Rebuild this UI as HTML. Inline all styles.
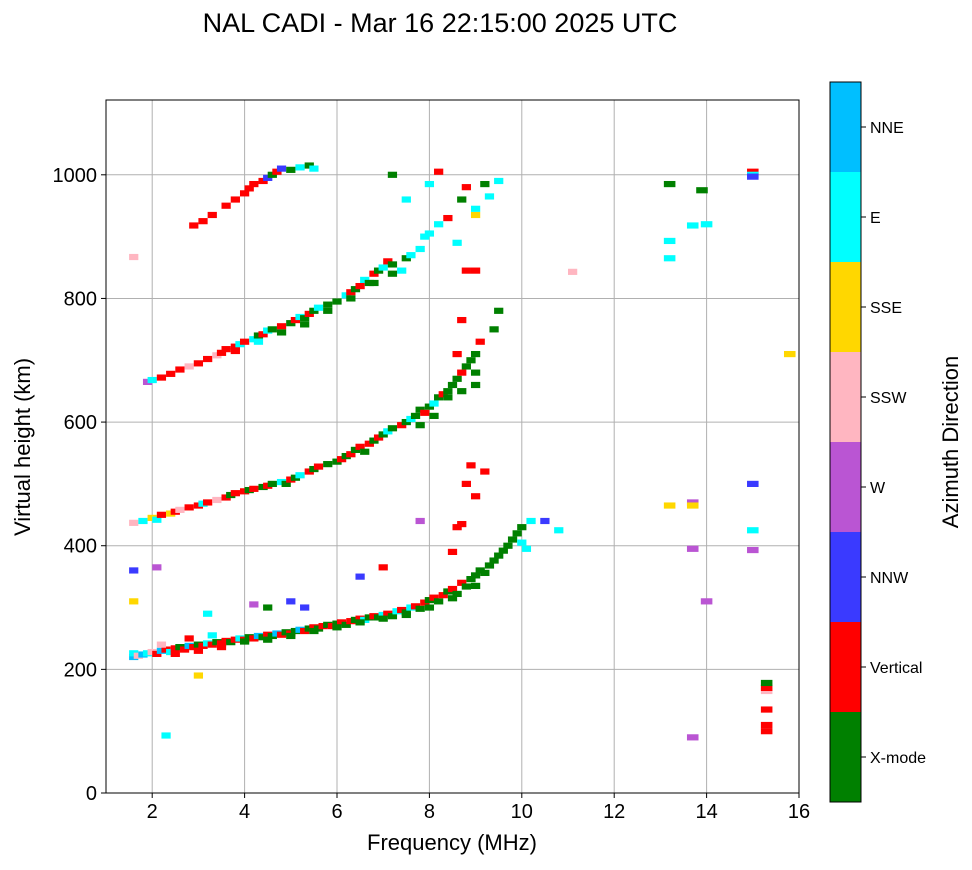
<!DOCTYPE html>
<html><head><meta charset="utf-8"><style>
body{margin:0;background:#fff;font-family:"Liberation Sans","DejaVu Sans",sans-serif}
</style></head><body>
<svg id="chart" width="972" height="865" xmlns="http://www.w3.org/2000/svg" font-family="Liberation Sans, DejaVu Sans, sans-serif">
<text x="440" y="32" font-size="27" text-anchor="middle">NAL CADI - Mar 16 22:15:00 2025 UTC</text>
<g id="grid"></g>
<g id="marks"></g>
<rect x="106" y="100" width="693" height="693" fill="none" stroke="#000" stroke-width="1"/>
<g id="axes"></g>
<text x="452" y="850" font-size="22" text-anchor="middle">Frequency (MHz)</text>
<text transform="translate(30,447) rotate(-90)" font-size="22" text-anchor="middle">Virtual height (km)</text>
<g id="colorbar"></g>
<text transform="translate(958,442) rotate(-90)" font-size="22" text-anchor="middle">Azimuth Direction</text>
</svg>
<script>
const xTicks=[2,4,6,8,10,12,14,16];
const yTicks=[0,200,400,600,800,1000];
const colorNames=["X-mode","Vertical","NNW","W","SSW","SSE","E","NNE"];
const colorValues=["#008000","#ff0000","#3a3aff","#ba55d3","#ffb6c1","#ffd700","#00ffff","#00bfff"];
const trace1="1.6,220,7;1.6,226,6;1.7,222,4;1.8,224,7;1.9,226,6;2.0,228,4;2.1,225,1;2.2,230,7;2.3,232,1;2.4,228,6;2.5,234,1;2.6,236,0;2.7,232,1;2.8,238,7;2.9,236,1;3.0,240,0;3.1,238,1;3.2,242,6;3.3,240,1;3.4,244,0;3.5,242,1;3.6,246,1;3.7,244,0;3.8,248,1;3.9,250,6;4.0,248,1;4.1,252,0;4.2,250,1;4.3,254,7;4.4,252,0;4.5,256,1;4.6,254,0;4.7,258,7;4.8,256,1;4.9,260,0;5.0,258,1;5.1,262,0;5.2,264,7;5.3,262,1;5.4,266,0;5.5,268,1;5.6,266,0;5.7,270,1;5.8,272,0;5.9,270,1;6.0,274,0;6.1,276,1;6.2,272,0;6.3,278,1;6.4,280,0;6.5,282,1;6.6,280,6;6.7,284,0;6.8,286,1;6.9,284,0;7.0,288,6;7.1,290,1;7.2,286,0;7.3,294,6;7.4,296,1;7.5,292,0;7.6,300,6;7.7,302,1;7.8,298,0;7.9,308,1;8.0,312,0;8.1,316,1;8.2,310,0;8.3,320,1;8.4,326,0;8.5,330,1;8.6,322,0;8.7,340,1;8.8,334,0;8.9,346,0;9.0,352,0;9.1,360,0;9.2,356,0;9.3,368,0;9.4,376,0;9.5,384,0;9.6,392,0;9.7,400,0;9.8,410,0;9.9,420,0;10.0,430,0;10.0,405,6;10.1,395,6;10.2,440,6;10.5,440,2;10.8,425,6;4.0,245,0;4.5,248,0;5.0,254,0;5.5,262,0;6.0,268,0;6.5,276,0;7.0,282,0;7.5,288,0;8.0,300,0;8.5,315,0;9.0,335,0;2.5,225,1;3.0,230,1;3.5,236,1;2.2,240,4;2.8,250,1;3.3,255,6";
const trace2="1.6,437,4;1.8,440,6;2.0,445,5;2.1,442,6;2.2,450,1;2.4,452,5;2.5,455,1;2.6,458,4;2.8,462,1;3.0,465,1;3.1,468,6;3.2,470,1;3.4,474,4;3.6,478,1;3.7,482,0;3.8,485,1;4.0,488,1;4.1,490,0;4.2,492,1;4.4,495,0;4.5,497,1;4.6,500,0;4.8,503,6;4.9,500,0;5.0,507,1;5.1,510,0;5.2,514,6;5.4,520,1;5.5,524,0;5.6,528,1;5.8,532,0;6.0,536,0;6.1,540,1;6.2,545,0;6.3,548,1;6.4,555,0;6.5,560,1;6.6,552,0;6.7,565,1;6.8,570,0;6.9,575,1;7.0,580,0;7.1,585,6;7.2,590,0;7.4,595,1;7.5,600,0;7.6,605,6;7.7,610,0;7.8,620,0;7.9,615,1;8.0,625,0;8.1,630,6;8.2,640,0;8.3,645,1;8.4,650,0;8.5,660,0;8.6,670,0;8.7,680,1;8.8,690,0;8.9,700,0;9.0,710,0;9.0,680,0;9.1,730,1;9.4,750,0;9.5,780,0;9.0,660,0;8.7,650,0;8.4,640,0;8.1,610,0;7.8,595,0";
const trace3="1.9,665,3;2.0,668,6;2.2,672,1;2.4,678,1;2.6,685,1;2.8,690,4;3.0,695,1;3.2,702,1;3.4,708,4;3.5,712,1;3.6,718,1;3.8,722,1;3.9,726,6;4.0,730,1;4.2,734,6;4.3,740,0;4.4,742,1;4.5,748,6;4.6,750,0;4.8,755,1;5.0,760,0;5.1,765,1;5.2,770,6;5.3,768,0;5.4,775,1;5.5,780,0;5.6,785,6;5.8,790,0;6.0,795,0;6.2,805,6;6.3,810,1;6.4,815,0;6.5,820,1;6.6,830,6;6.7,825,0;6.8,840,1;6.9,845,0;7.0,850,6;7.1,860,1;7.2,855,0;7.4,845,6;7.5,865,0;7.6,870,6;7.8,880,6;7.9,900,6;8.0,905,6;8.2,920,6;8.4,930,1;8.6,890,6;8.8,845,1;9.0,935,5;9.0,945,6;9.5,990,6;3.8,715,1;4.3,730,6;4.8,745,0;5.3,758,0;5.8,780,0;6.3,800,0;6.8,825,0;7.2,840,0";
const trace4="2.9,918,1;3.1,925,1;3.3,935,1;3.6,950,1;3.8,960,1;4.0,970,1;4.1,978,1;4.2,985,1;4.4,990,1;4.5,995,2;4.6,1000,0;4.7,1005,1;4.8,1010,2;5.0,1008,0;5.2,1012,6;5.4,1015,0;5.5,1010,6;7.2,1000,0;7.5,960,6;8.0,985,6;8.2,1005,1;8.7,960,0;8.8,980,1;9.2,985,0;9.3,965,6";
const scattered="8.6,430,1;8.7,435,1;8.8,500,1;8.9,530,1;9.0,480,1;9.2,520,1;8.5,390,1;7.8,440,3;6.5,350,2;7.0,365,1;1.6,360,2;1.6,310,5;2.1,365,3;2.3,93,6;3.0,190,5;4.2,305,3;4.5,300,0;5.0,310,2;5.3,300,2;3.2,290,6;15.3,100,1;15.3,110,1;15.3,135,1;15.3,165,4;15.3,170,1;15.3,178,0;13.7,90,3;13.7,395,3;13.7,470,3;13.7,465,5;13.2,465,5;13.2,865,6;13.2,893,6;13.7,918,6;14.0,920,6;13.2,985,0;13.9,975,0;15.0,1005,1;15.0,1000,6;15.0,997,2;15.0,500,2;15.0,425,6;15.0,393,3;14.0,310,3;15.8,710,5;11.1,843,4;1.6,867,4;9.0,845,1;8.7,765,1;8.6,710,1";

const NS="http://www.w3.org/2000/svg";
const X0=106,X1=799,Y0=793,Y1=100,XMIN=1,XMAX=16,YMIN=0,YMAX=1121;
function xs(v){return X0+(v-XMIN)/(XMAX-XMIN)*(X1-X0);}
function ys(v){return Y0-(v-YMIN)/(YMAX-YMIN)*(Y0-Y1);}
function mk(tag,attrs,parent){const e=document.createElementNS(NS,tag);for(const k in attrs)e.setAttribute(k,attrs[k]);parent.appendChild(e);return e;}
const grid=document.getElementById('grid'),axes=document.getElementById('axes'),marks=document.getElementById('marks'),cb=document.getElementById('colorbar');
xTicks.forEach(t=>{
 const gl=mk('line',{x1:xs(t),x2:xs(t),y1:Y1,y2:Y0,stroke:'#b0b0b0','stroke-width':1},grid);
 
 
 mk('line',{x1:xs(t),x2:xs(t),y1:Y0,y2:Y0+5,stroke:'#000'},axes);
 const tx=mk('text',{x:xs(t),y:Y0+25,'font-size':20,'text-anchor':'middle'},axes);tx.textContent=t;
 
 
});
yTicks.forEach(t=>{
 const gl=mk('line',{x1:X0,x2:X1,y1:ys(t),y2:ys(t),stroke:'#b0b0b0','stroke-width':1},grid);
 
 
 mk('line',{x1:X0-5,x2:X0,y1:ys(t),y2:ys(t),stroke:'#000'},axes);
 const tx=mk('text',{x:X0-9,y:ys(t)+7,'font-size':20,'text-anchor':'end'},axes);tx.textContent=t;
 
 
});
[trace1,trace2,trace3,trace4,scattered].forEach(s=>{
 s.split(';').forEach(p=>{
  const [f,h,c]=p.split(',').map(Number);
  const w=f>12?0.25:0.2;
  const r=mk('rect',{x:xs(f-w/2),y:ys(h+5),width:xs(w)-xs(0),height:ys(0)-ys(10),fill:colorValues[c]},marks);
  
  
 });
});
const CBX=830,CBW=31,CBT=82,SEG=90;
for(let i=0;i<colorNames.length;i++){
 const yTop=CBT+(colorNames.length-1-i)*SEG;
 const r=mk('rect',{x:CBX,y:yTop,width:CBW,height:SEG,fill:colorValues[i]},cb);
 
 
 mk('line',{x1:CBX+CBW,x2:CBX+CBW+5,y1:yTop+SEG/2,y2:yTop+SEG/2,stroke:'#000'},cb);
 const tx=mk('text',{x:CBX+CBW+9,y:yTop+SEG/2+6,'font-size':16},cb);tx.textContent=colorNames[i];
 
 
}
const fr=mk('rect',{x:CBX,y:CBT,width:CBW,height:SEG*8,fill:'none',stroke:'#000'},cb);


</script>
</body></html>
